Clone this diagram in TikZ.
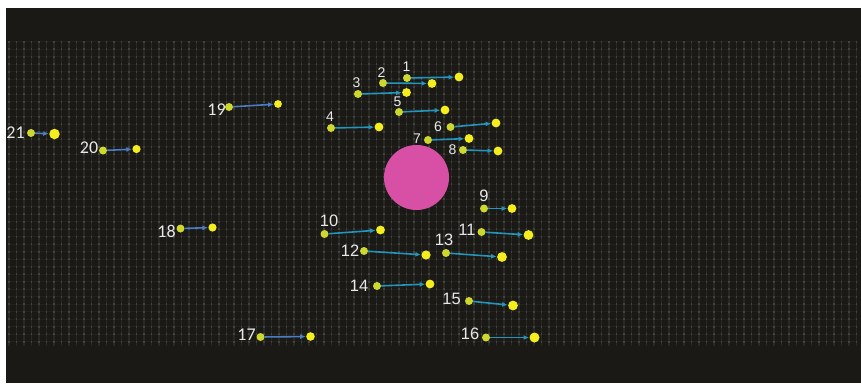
\documentclass[tikz,border=0pt]{standalone}
\usepackage{fontspec}
\setmainfont{Liberation Sans}
\newfontfamily\calib{Carlito}
\usetikzlibrary{arrows.meta}
\definecolor{bgc}{RGB}{26,25,22}
\definecolor{gridc}{RGB}{66,66,62}
\definecolor{gridh}{RGB}{33,33,30}
\definecolor{gridl}{RGB}{40,40,37}
\definecolor{holec}{RGB}{216,80,166}
\definecolor{startc}{RGB}{205,215,45}
\definecolor{endc}{RGB}{245,238,30}
\definecolor{arrA}{RGB}{35,150,190}
\definecolor{arrB}{RGB}{75,125,195}
\definecolor{labc}{RGB}{232,232,232}
\tikzset{
  startdot/.style={circle, fill=startc, inner sep=0pt, minimum size=8pt},
  enddot/.style={circle, fill=endc, inner sep=0pt},
  arrowA/.style={draw=arrA, line width=1.6pt, -{Latex[length=5.5pt,width=5pt]}, shorten >=0.3pt},
  arrowB/.style={draw=arrB, line width=1.6pt, -{Latex[length=5.5pt,width=5pt]}, shorten >=0.3pt},
  labA/.style={text=labc, inner sep=0pt, font=\fontsize{14}{14}\selectfont},
  labB/.style={text=labc, inner sep=0pt, font=\fontsize{16.5}{16.5}\selectfont},
  labC/.style={text=labc, inner sep=0pt, font=\calib\fontsize{18}{18}\selectfont},
  gridv/.style={draw=gridc, line width=1.8pt, dash pattern=on 1.8pt off 5.7pt},
  gridvl/.style={draw=gridl, line width=1.2pt},
  gridhl/.style={draw=gridh, line width=0.5pt},
  holestyle/.style={circle, fill=holec, inner sep=0pt, minimum size=65pt}
}
\begin{document}
\begin{tikzpicture}[x=1pt,y=-1pt]
\useasboundingbox (0,0) rectangle (861,383);
\fill[white] (0,0) rectangle (861,383);
\fill[bgc] (6,8) rectangle (861,383);
% grid
\foreach \j in {0,...,40} \draw[gridhl] (8,{41.5+7.5*\j}) -- (858,{41.5+7.5*\j});
\foreach \i in {0,...,113} \draw[gridvl] ({9+7.5*\i},40.7) -- ({9+7.5*\i},346);
\foreach \i in {0,...,113} \draw[gridv] ({9+7.5*\i},40.7) -- ({9+7.5*\i},346);
% central hole
\node[holestyle] (hole) at (416.5,177.5) {};
% group A: labels 1-8
\foreach \n/\sx/\sy/\ex/\ey/\lx/\ly/\er in {
 1/407/78/459/77/406.5/67/8.8,
 2/383/83/432/83.5/381.5/73/8.8,
 3/358/94/406.5/92.5/356.5/83/8.8,
 4/331/128/379/127/330/117/8.8,
 5/399/112/445/110/397.5/102/8.8,
 6/450.5/127/496/123/438/126.5/8.8,
 7/428/140/469/138.5/417/138.5/8.8,
 8/463/150/498/151/452.5/150/8.8} {
  \node[startdot] (s\n) at (\sx,\sy) {};
  \node[enddot, minimum size=\er pt] (e\n) at (\ex,\ey) {};
  \draw[arrowA] (s\n) -- (e\n);
  \node[labA] (l\n) at (\lx,\ly) {\n};
}
% group B: labels 9-16
\foreach \n/\sx/\sy/\ex/\ey/\lx/\ly/\er in {
 9/484/208.5/512/208.5/484/196/8.8,
 10/324.5/234/380.5/230/329/221/8.8,
 11/481.5/232/528.5/235/467/230/9.8,
 12/364/251/426/255/350/251/9.2,
 13/446/253/502/257/444/240/9.8,
 14/377/286/430/284/359/286/8.8,
 15/469/301/513/305.5/451.5/299/9.8,
 16/486/337.5/534.5/337.5/470/334/10} {
  \node[startdot] (s\n) at (\sx,\sy) {};
  \node[enddot, minimum size=\er pt] (e\n) at (\ex,\ey) {};
  \draw[arrowA] (s\n) -- (e\n);
  \node[labB] (l\n) at (\lx,\ly) {\n};
}
% group C: labels 17-21
\foreach \n/\sx/\sy/\ex/\ey/\lx/\ly/\er in {
 17/260.5/337/310.5/336.5/246.5/335/8.6,
 18/180.5/228.5/212.5/227.5/166.5/231/8.2,
 19/229/107/278/104/216.5/109.5/7.8,
 20/103/150.5/136.5/149/89/147.5/8.2,
 21/31/133/54.5/134/15.5/133/10.5} {
  \node[startdot] (s\n) at (\sx,\sy) {};
  \node[enddot, minimum size=\er pt] (e\n) at (\ex,\ey) {};
  \draw[arrowB] (s\n) -- (e\n);
  \node[labC] (l\n) at (\lx,\ly) {\n};
}
\end{tikzpicture}
\end{document}
